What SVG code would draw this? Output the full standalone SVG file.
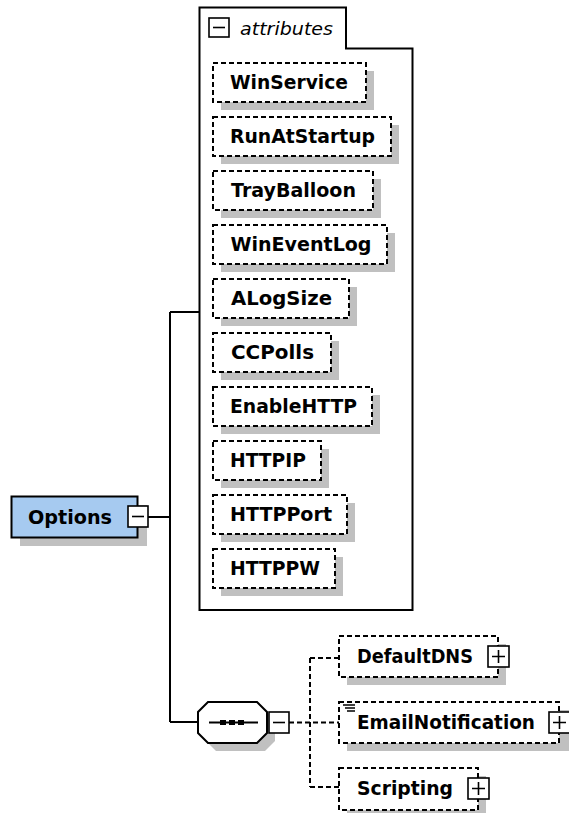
<svg xmlns="http://www.w3.org/2000/svg" width="569" height="813" viewBox="0 0 569 813">
<style>
.bg{fill:#fff}
.sh{fill:#c0c0c0}
.box{fill:#fff;stroke:#000;stroke-width:2;stroke-dasharray:5,3}
.solid{fill:#fff;stroke:#000;stroke-width:2}
.line{fill:none;stroke:#000;stroke-width:2}
.dline{fill:none;stroke:#000;stroke-width:2;stroke-dasharray:5,3}
.t{font-family:"DejaVu Sans","Liberation Sans",sans-serif;font-weight:bold;font-size:19.5px;fill:#000}
.it{font-family:"DejaVu Sans","Liberation Sans",sans-serif;font-style:italic;font-size:17.5px;fill:#000}
.icon{fill:#fff;stroke:#000;stroke-width:1.6}
.ic{fill:none;stroke:#000;stroke-width:1.6}
</style>
<rect width="569" height="813" class="bg"/>

<g id="connectors">
  <path class="line" d="M148,517 H170 M170,312 V722 M170,312 H200 M170,722 H198"/>
  <path class="dline" d="M289,722.5 H339 M310,658 V787 M310,658 H339 M310,787 H339"/>
</g>

<g id="attributes">
  <path class="line" d="M199.5,7.5 H346 V48.5 H412.5 V610 H199.5 Z"/>
  <rect class="icon" x="209" y="18" width="20" height="19"/>
  <path class="ic" d="M213,27.5 H225"/>
  <text class="it" x="240" y="35" textLength="93" lengthAdjust="spacingAndGlyphs">attributes</text>
</g>

<g id="WinService">
  <rect class="sh" x="221" y="71" width="153" height="39"/>
  <rect class="box" x="213" y="63" width="153" height="39"/>
  <text class="t" x="230" y="89" textLength="118" lengthAdjust="spacingAndGlyphs">WinService</text>
</g>
<g id="RunAtStartup">
  <rect class="sh" x="221" y="125" width="178" height="39"/>
  <rect class="box" x="213" y="117" width="178" height="39"/>
  <text class="t" x="230" y="143" textLength="145" lengthAdjust="spacingAndGlyphs">RunAtStartup</text>
</g>
<g id="TrayBalloon">
  <rect class="sh" x="221" y="179" width="160" height="39"/>
  <rect class="box" x="213" y="171" width="160" height="39"/>
  <text class="t" x="231" y="197" textLength="125" lengthAdjust="spacingAndGlyphs">TrayBalloon</text>
</g>
<g id="WinEventLog">
  <rect class="sh" x="221" y="233" width="174" height="39"/>
  <rect class="box" x="213" y="225" width="174" height="39"/>
  <text class="t" x="230.5" y="251" textLength="141" lengthAdjust="spacingAndGlyphs">WinEventLog</text>
</g>
<g id="ALogSize">
  <rect class="sh" x="221" y="287" width="136" height="39"/>
  <rect class="box" x="213" y="279" width="136" height="39"/>
  <text class="t" x="231" y="305" textLength="101" lengthAdjust="spacingAndGlyphs">ALogSize</text>
</g>
<g id="CCPolls">
  <rect class="sh" x="221" y="341" width="118" height="39"/>
  <rect class="box" x="213" y="333" width="118" height="39"/>
  <text class="t" x="231" y="359" textLength="83" lengthAdjust="spacingAndGlyphs">CCPolls</text>
</g>
<g id="EnableHTTP">
  <rect class="sh" x="221" y="395" width="159" height="39"/>
  <rect class="box" x="213" y="387" width="159" height="39"/>
  <text class="t" x="230" y="413" textLength="127" lengthAdjust="spacingAndGlyphs">EnableHTTP</text>
</g>
<g id="HTTPIP">
  <rect class="sh" x="221" y="449" width="108" height="39"/>
  <rect class="box" x="213" y="441" width="108" height="39"/>
  <text class="t" x="230" y="467" textLength="76" lengthAdjust="spacingAndGlyphs">HTTPIP</text>
</g>
<g id="HTTPPort">
  <rect class="sh" x="221" y="503" width="134" height="39"/>
  <rect class="box" x="213" y="495" width="134" height="39"/>
  <text class="t" x="230" y="521" textLength="102" lengthAdjust="spacingAndGlyphs">HTTPPort</text>
</g>
<g id="HTTPPW">
  <rect class="sh" x="221" y="557" width="122" height="39"/>
  <rect class="box" x="213" y="549" width="122" height="39"/>
  <text class="t" x="230" y="575" textLength="90" lengthAdjust="spacingAndGlyphs">HTTPPW</text>
</g>

<g id="Options">
  <rect class="sh" x="20" y="505" width="127" height="41"/>
  <rect x="11.5" y="496.5" width="126" height="41" fill="#a6caf0" stroke="#000" stroke-width="2"/>
  <text class="t" x="28" y="524" textLength="84" lengthAdjust="spacingAndGlyphs">Options</text>
  <rect class="icon" x="128" y="506" width="20" height="21"/>
  <path class="ic" d="M132,516.5 H144"/>
</g>

<g id="sequence">
  <polygon class="sh" points="216,710 265,710 275,720 275,741 265,751 216,751 206,741 206,720"/>
  <polygon class="solid" points="208,702 257,702 267,712 267,733 257,743 208,743 198,733 198,712"/>
  <path class="line" d="M209,722.5 H258"/>
  <rect x="220" y="720" width="6" height="5" fill="#000"/>
  <rect x="229" y="720" width="6" height="5" fill="#000"/>
  <rect x="238" y="720" width="6" height="5" fill="#000"/>
  <rect class="icon" x="269" y="712" width="20" height="21"/>
  <path class="ic" d="M273,722.5 H285"/>
</g>

<g id="DefaultDNS">
  <rect class="sh" x="347" y="644" width="159" height="41"/>
  <rect class="box" x="339" y="636" width="159" height="41"/>
  <text class="t" x="357" y="663" textLength="116" lengthAdjust="spacingAndGlyphs">DefaultDNS</text>
  <rect class="icon" x="488" y="646" width="21" height="21"/>
  <path class="ic" d="M492,656.5 H505 M498.5,650 V663"/>
</g>

<g id="EmailNotification">
  <rect class="sh" x="347" y="710" width="222" height="41"/>
  <rect class="box" x="339" y="702" width="220" height="41"/>
  <path class="ic" d="M343,705 H355 M345,708 H355 M347,711 H355" stroke-width="1.2"/>
  <text class="t" x="357" y="729" textLength="178" lengthAdjust="spacingAndGlyphs">EmailNotification</text>
  <rect class="icon" x="549" y="712" width="21" height="21"/>
  <path class="ic" d="M553,722.5 H566 M559.5,716 V729"/>
</g>

<g id="Scripting">
  <rect class="sh" x="347" y="776" width="139" height="37"/>
  <rect class="box" x="339" y="768" width="139" height="42"/>
  <text class="t" x="357" y="795" textLength="96" lengthAdjust="spacingAndGlyphs">Scripting</text>
  <rect class="icon" x="468" y="778" width="21" height="21"/>
  <path class="ic" d="M472,788.5 H485 M478.5,782 V795"/>
</g>
</svg>
